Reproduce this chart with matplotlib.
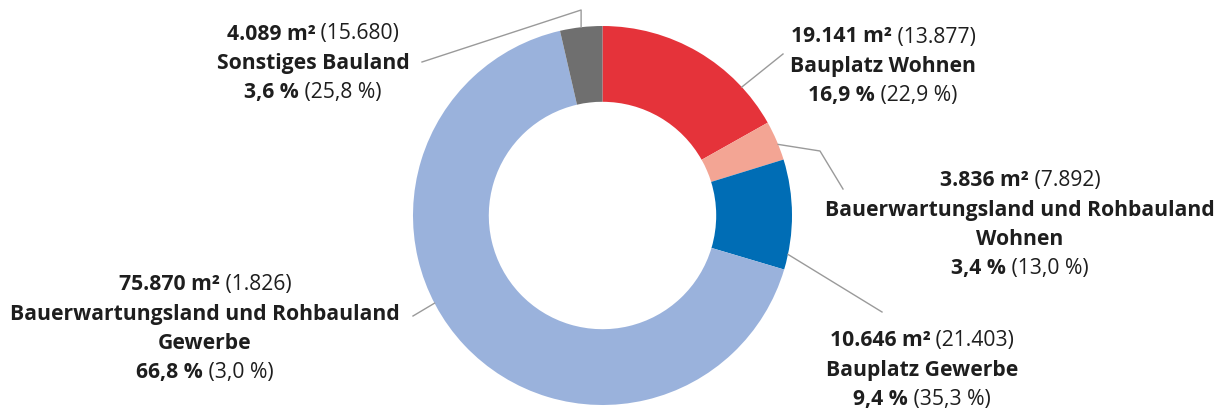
import numpy as np
import matplotlib
matplotlib.use("Agg")
import matplotlib.pyplot as plt

plt.rcParams['font.family'] = ['Open Sans', 'DejaVu Sans']

# Flächen in m² (aktuell und Vorjahr), Reihenfolge im Uhrzeigersinn ab 12 Uhr
names = [["Bauplatz Wohnen"],
         ["Bauerwartungsland und Rohbauland", "Wohnen"],
         ["Bauplatz Gewerbe"],
         ["Bauerwartungsland und Rohbauland", "Gewerbe"],
         ["Sonstiges Bauland"]]
area = [19141, 3836, 10646, 75870, 4089]
area_prev = [13877, 7892, 21403, 1826, 15680]
colors = ["#E5333A", "#F3A594", "#006DB5", "#9AB2DC", "#6F6F6F"]

W, H = 1228, 410
fig = plt.figure(figsize=(W / 100, H / 100), dpi=100)

cx, cy, R = 602.5, 216.5, 189.5
ax = fig.add_axes([(cx - R) / W, (H - cy - R) / H, 2 * R / W, 2 * R / H])
wedges, _ = ax.pie(area, colors=colors, startangle=90, counterclock=False,
                   radius=1, wedgeprops=dict(width=0.40, linewidth=0))
ax.set_xlim(-1, 1)
ax.set_ylim(-1, 1)
ax.axis("off")

# overlay in pixel coordinates for labels and leader lines
ov = fig.add_axes([0, 0, 1, 1], facecolor="none")
ov.set_xlim(0, W)
ov.set_ylim(H, 0)
ov.axis("off")

pct = np.array(area) / sum(area) * 100
pct_prev = np.array(area_prev) / sum(area_prev) * 100


def de_int(v):
    return f"{v:,}".replace(",", ".")


def de_pct(v):
    return f"{v:.1f}".replace(".", ",") + " %"


def ring_point(w, frac):
    # point on the outer rim, frac = position inside the wedge (0..1, clockwise)
    ang = np.deg2rad(w.theta2 + (w.theta1 - w.theta2) * frac)
    return cx + R * np.cos(ang), cy - R * np.sin(ang)


renderer = fig.canvas.get_renderer()
txt_col = "#1E1E1E"
fs = 15.2


def mixed_line(x, y, parts):
    objs = [ov.text(0, y, s, fontsize=fs, fontweight=wt, color=txt_col,
                    ha="left", va="center") for s, wt in parts]
    widths = [o.get_window_extent(renderer).width for o in objs]
    left = x - sum(widths) / 2
    for o, w in zip(objs, widths):
        o.set_x(left)
        left += w


# label layout: centre x, first line y, anchor inside wedge, leader elbow points
layout = [
    (883, 37, 0.78, [(783, 55)]),
    (1020, 181, 0.6, [(820, 152), (843, 190)]),
    (922, 341, 0.86, [(882, 313)]),
    (205, 285, 0.565, [(413, 317)]),
    (313, 34, 0.5, [(None, 11), (422, 63)]),
]
lh = 29.3

for i, (x, y0, frac, pts) in enumerate(layout):
    lines = [[(de_int(area[i]) + " m²", "bold"), (" (" + de_int(area_prev[i]) + ")", "normal")]]
    lines += [[(n, "bold")] for n in names[i]]
    lines += [[(de_pct(pct[i]), "bold"), (" (" + de_pct(pct_prev[i]) + ")", "normal")]]
    for k, ln in enumerate(lines):
        mixed_line(x, y0 + k * lh, ln)
    sx, sy = ring_point(wedges[i], frac)
    xs, ys = [sx], [sy]
    for px, py in pts:
        xs.append(sx if px is None else px)
        ys.append(py)
    ov.plot(xs, ys, color="#9A9A9A", lw=1.0)

fig.savefig("out.png", dpi=100)
